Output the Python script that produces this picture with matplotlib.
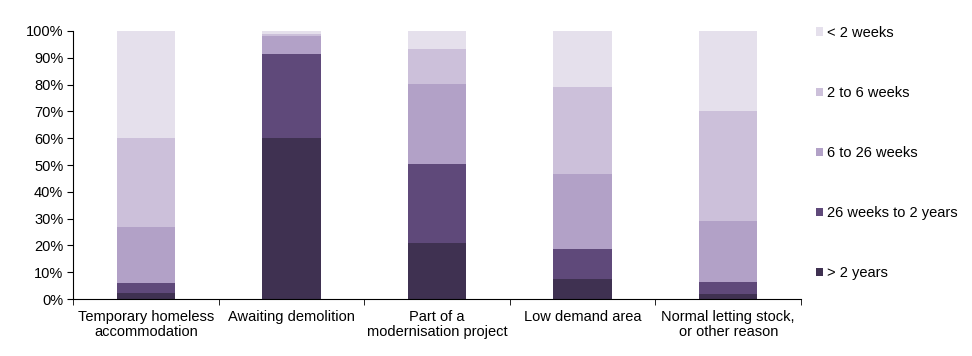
import matplotlib
matplotlib.use("Agg")
import matplotlib.pyplot as plt
import numpy as np

plt.rcParams['font.family'] = ['Liberation Sans', 'DejaVu Sans']

categories = ["Temporary homeless\naccommodation", "Awaiting demolition",
              "Part of a\nmodernisation project", "Low demand area",
              "Normal letting stock,\nor other reason"]

# percentage shares, bottom to top
over_2_years = [2.4, 60.1, 20.9, 7.5, 2.0]
weeks_26_to_2_years = [3.6, 31.4, 29.5, 11.3, 4.2]
weeks_6_to_26 = [20.9, 6.8, 29.9, 28.0, 23.0]
weeks_2_to_6 = [33.2, 0.7, 13.0, 32.2, 41.1]
under_2_weeks = [39.9, 1.0, 6.7, 21.0, 29.7]

series = [
    ("> 2 years", over_2_years, "#3F3151"),
    ("26 weeks to 2 years", weeks_26_to_2_years, "#5F497A"),
    ("6 to 26 weeks", weeks_6_to_26, "#B2A1C7"),
    ("2 to 6 weeks", weeks_2_to_6, "#CCC0DA"),
    ("< 2 weeks", under_2_weeks, "#E5E0EC"),
]

fig = plt.figure(figsize=(9.72, 3.56), dpi=100)
ax = fig.add_axes([0.0751, 0.160, 0.749, 0.753])

x = np.arange(len(categories))
bottom = np.zeros(len(categories))
for label, vals, color in series:
    ax.bar(x, vals, width=0.4, bottom=bottom, color=color, label=label)
    bottom += np.array(vals)

ax.set_xlim(-0.5, len(categories) - 0.5)
ax.set_ylim(0, 100)
ax.set_yticks(np.arange(0, 101, 10))
ax.set_yticklabels([f"{v}%" for v in range(0, 101, 10)])
ax.set_xticks(x)
ax.set_xticklabels(categories, linespacing=1.1)
ax.set_xticks(np.arange(-0.5, len(categories)), minor=True)
ax.tick_params(axis='x', which='major', length=0, pad=8, labelsize=10.5)
ax.tick_params(axis='x', which='minor', length=4, direction='out')
ax.tick_params(axis='y', length=4, direction='out', labelsize=10.5, pad=3)

for s in ["top", "right"]:
    ax.spines[s].set_visible(False)

handles, labels = ax.get_legend_handles_labels()
ax.legend(handles[::-1], labels[::-1], loc='upper left', bbox_to_anchor=(1.012, 1.041),
          frameon=False, fontsize=10.5, handlelength=0.5, handleheight=0.5,
          handletextpad=0.25, labelspacing=3.16, borderaxespad=0)

fig.savefig("out.png", dpi=100)
